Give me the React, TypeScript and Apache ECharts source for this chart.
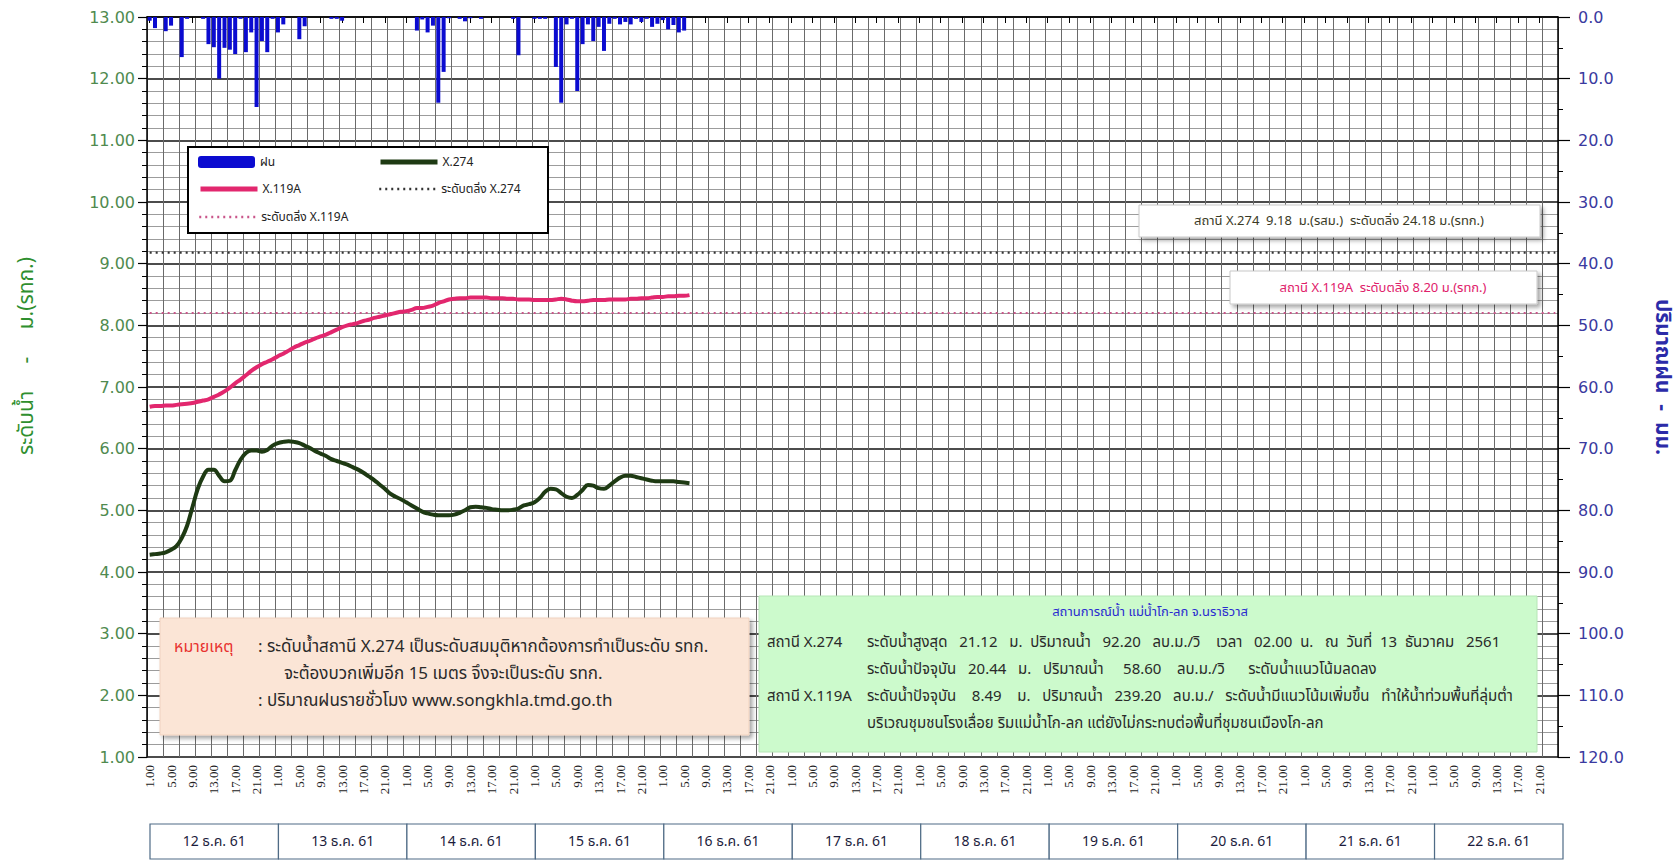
import React, { useEffect, useRef } from 'react';
import * as echarts from 'echarts';

// ---------- data ----------
const DAYS = ['12 ธ.ค. 61', '13 ธ.ค. 61', '14 ธ.ค. 61', '15 ธ.ค. 61', '16 ธ.ค. 61', '17 ธ.ค. 61', '18 ธ.ค. 61', '19 ธ.ค. 61', '20 ธ.ค. 61', '21 ธ.ค. 61', '22 ธ.ค. 61'];
const HOURS = ['1.00', '2.00', '3.00', '4.00', '5.00', '6.00', '7.00', '8.00', '9.00', '10.00', '11.00', '12.00', '13.00', '14.00', '15.00', '16.00', '17.00', '18.00', '19.00', '20.00', '21.00', '22.00', '23.00', '24.00'];
const CATEGORIES = DAYS.flatMap((d) => HOURS.map((h) => `${d}|${h}`));

// hourly rainfall (mm) from 12 ธ.ค. 1.00
const RAIN = [
  0.6, 1.8, 0, 2.3, 1.4, 0, 6.5, 0.3, 0, 0,
  0.3, 4.4, 4.9, 10.0, 5.0, 5.3, 6.0, 0.3, 5.7, 2.5,
  14.6, 3.9, 5.7, 0.3, 2.5, 1.2, 0, 0, 3.6, 1.5,
  0, 0, 0, 0, 0.3, 0.3, 0.6, 0, 0, 0,
  0, 0, 0, 0, 0, 0, 0, 0, 0, 0,
  2.2, 0.4, 2.5, 1.4, 13.9, 8.9, 0.2, 0, 0.3, 0.7,
  0.2, 0, 0.3, 0, 0, 0, 0, 0, 0.3, 6.2,
  0, 0, 0.3, 0.3, 0.3, 0, 8.1, 13.9, 1.2, 0.3,
  12.0, 4.4, 1.2, 3.9, 1.6, 5.5, 1.1, 0.3, 1.2, 0.8,
  1.2, 0.3, 0.8, 0.3, 1.6, 1.1, 0.5, 2.0, 1.3, 2.5,
  2.2, 0,
];

// water level X.274 (m, assumed datum)
const X274 = [
  4.28, 4.29, 4.30, 4.32, 4.36, 4.42, 4.55, 4.75, 5.05, 5.35,
  5.55, 5.66, 5.66, 5.56, 5.47, 5.48, 5.65, 5.82, 5.93, 5.97,
  5.97, 5.95, 5.98, 6.05, 6.09, 6.11, 6.12, 6.11, 6.09, 6.05,
  6.01, 5.96, 5.92, 5.88, 5.83, 5.80, 5.77, 5.74, 5.70, 5.66,
  5.61, 5.55, 5.49, 5.42, 5.35, 5.27, 5.22, 5.18, 5.13, 5.08,
  5.03, 4.98, 4.95, 4.93, 4.92, 4.92, 4.92, 4.93, 4.96, 5.00,
  5.05, 5.06, 5.05, 5.04, 5.02, 5.01, 5.00, 5.00, 5.01, 5.03,
  5.08, 5.10, 5.13, 5.20, 5.30, 5.35, 5.34, 5.28, 5.22, 5.20,
  5.25, 5.33, 5.41, 5.40, 5.36, 5.35, 5.40, 5.47, 5.53, 5.56,
  5.56, 5.54, 5.52, 5.50, 5.48, 5.47, 5.47, 5.47, 5.47, 5.46,
  5.45, 5.44,
];

// water level X.119A (m MSL)
const X119A = [
  6.68, 6.69, 6.69, 6.70, 6.70, 6.71, 6.72, 6.73, 6.74, 6.76,
  6.78, 6.80, 6.84, 6.88, 6.93, 6.99, 7.06, 7.12, 7.19, 7.26,
  7.32, 7.37, 7.41, 7.45, 7.50, 7.54, 7.59, 7.64, 7.68, 7.72,
  7.75, 7.79, 7.82, 7.85, 7.89, 7.93, 7.97, 8.00, 8.02, 8.04,
  8.07, 8.09, 8.12, 8.14, 8.16, 8.18, 8.20, 8.22, 8.23, 8.25,
  8.28, 8.28, 8.30, 8.32, 8.36, 8.39, 8.42, 8.43, 8.44, 8.44,
  8.45, 8.45, 8.45, 8.45, 8.44, 8.44, 8.44, 8.43, 8.43, 8.42,
  8.42, 8.42, 8.41, 8.41, 8.41, 8.41, 8.42, 8.43, 8.42, 8.40,
  8.39, 8.39, 8.40, 8.41, 8.41, 8.41, 8.42, 8.42, 8.42, 8.42,
  8.43, 8.43, 8.44, 8.44, 8.45, 8.46, 8.46, 8.47, 8.47, 8.48,
  8.48, 8.49,
];

const BANK_X274 = 9.18;
const BANK_X119A = 8.2;

const LEFT_TICKS = { min: 1, max: 13, interval: 1 };
const RIGHT_TICKS = { min: 0, max: 120, interval: 10 };

// ---------- layout ----------
const W = 1677;
const H = 861;
const GL = 147;
const GT = 17;
const GW = 1411;
const GH = 740;
const TABLE_LEFT = 150;
const TABLE_RIGHT = 1563;
const TABLE_TOP = 824;
const TABLE_H = 35;

const THAI = "Tahoma, 'Noto Sans Thai', 'Noto Sans', 'DejaVu Sans', sans-serif";
const sp = (n: number) => '\u00A0'.repeat(n);

function buildOption() {
  const legendCommon = {
    itemWidth: 57,
    itemHeight: 12,
    padding: 0,
    selectedMode: false,
    orient: 'horizontal',
    z: 30,
    textStyle: { fontSize: 12, color: '#222', fontFamily: THAI },
  };
  const lineLegend = { ...legendCommon, itemStyle: { opacity: 0 } };

  const cellW = (TABLE_RIGHT - TABLE_LEFT) / DAYS.length;
  const tableEls: any[] = [];
  DAYS.forEach((d, i) => {
    tableEls.push({
      type: 'rect',
      shape: { x: TABLE_LEFT + i * cellW, y: TABLE_TOP, width: cellW, height: TABLE_H },
      style: { fill: '#fff', stroke: '#4f6b86', lineWidth: 1.2 },
      z: 20,
    });
    tableEls.push({
      type: 'text',
      x: TABLE_LEFT + i * cellW + cellW / 2,
      y: TABLE_TOP + TABLE_H / 2,
      style: { text: d, fill: '#1c1c3c', font: `14px ${THAI}`, align: 'center', verticalAlign: 'middle' },
      z: 21,
    });
  });

  const boxShadow = { shadowBlur: 4, shadowColor: 'rgba(0,0,0,0.35)', shadowOffsetX: 3, shadowOffsetY: 3 };
  const txt = (x: number, y: number, text: string, fill: string, size: number, align = 'left') => ({
    type: 'text', x, y, z: 21,
    style: { text, fill, font: `${size}px ${THAI}`, align, verticalAlign: 'middle' },
  });

  const line1 = `ระดับน้ำสูงสุด${sp(3)}21.12${sp(3)}ม.${sp(2)}ปริมาณน้ำ${sp(3)}92.20${sp(3)}ลบ.ม./วิ${sp(4)}เวลา${sp(3)}02.00${sp(2)}น.${sp(3)}ณ${sp(2)}วันที่${sp(2)}13${sp(2)}ธันวาคม${sp(3)}2561`;
  const line2 = `ระดับน้ำปัจจุบัน${sp(3)}20.44${sp(3)}ม.${sp(3)}ปริมาณน้ำ${sp(5)}58.60${sp(4)}ลบ.ม./วิ${sp(6)}ระดับน้ำแนวโน้มลดลง`;
  const line3 = `ระดับน้ำปัจจุบัน${sp(4)}8.49${sp(4)}ม.${sp(3)}ปริมาณน้ำ${sp(3)}239.20${sp(3)}ลบ.ม./${sp(3)}ระดับน้ำมีแนวโน้มเพิ่มขึ้น${sp(3)}ทำให้น้ำท่วมพื้นที่ลุ่มต่ำ`;
  const line4 = 'บริเวณชุมชนโรงเลื่อย ริมแม่น้ำโก-ลก แต่ยังไม่กระทบต่อพื้นที่ชุมชนเมืองโก-ลก';

  const graphic: any[] = [
    // axis titles
    {
      type: 'text', x: 26, y: 356, rotation: Math.PI / 2, z: 20,
      style: { text: `ระดับน้ำ${sp(5)}-${sp(5)}ม.(รทก.)`, fill: '#2f8f2f', font: `21px ${THAI}`, align: 'center', verticalAlign: 'middle' },
    },
    {
      type: 'text', x: 1662, y: 377, rotation: -Math.PI / 2, z: 20,
      style: { text: `ปริมาณฝน${sp(2)}-${sp(2)}มม.`, fill: '#2b2ba8', font: `bold 21px ${THAI}`, align: 'center', verticalAlign: 'middle' },
    },
    // legend frame
    {
      type: 'rect', shape: { x: 188, y: 147, width: 360, height: 86 },
      style: { fill: '#fff', stroke: '#000', lineWidth: 2 }, z: 20,
    },
    // bank-level notes
    {
      type: 'rect', shape: { x: 1139, y: 205, width: 401, height: 32 },
      style: { fill: '#fff', stroke: '#c8c8c8', lineWidth: 1, ...boxShadow }, z: 20,
    },
    txt(1339, 221, `สถานี X.274${sp(2)}9.18${sp(2)}ม.(รสม.)${sp(2)}ระดับตลิ่ง 24.18 ม.(รทก.)`, '#3a3a25', 13, 'center'),
    {
      type: 'rect', shape: { x: 1230, y: 271, width: 307, height: 33 },
      style: { fill: '#fff', stroke: '#c8c8c8', lineWidth: 1, ...boxShadow }, z: 20,
    },
    txt(1383, 288, `สถานี X.119A${sp(2)}ระดับตลิ่ง 8.20 ม.(รทก.)`, '#e0206a', 13, 'center'),
    // remark box
    {
      type: 'rect', shape: { x: 160, y: 618, width: 589, height: 117 },
      style: { fill: '#fbe5d6', stroke: '#f0d2bf', lineWidth: 1, ...boxShadow }, z: 20,
    },
    txt(174, 647, 'หมายเหตุ', '#e8322f', 16),
    txt(258, 647, ': ระดับน้ำสถานี X.274 เป็นระดับสมมุติหากต้องการทำเป็นระดับ รทก.', '#2a2a2a', 17),
    txt(284, 674, 'จะต้องบวกเพิ่มอีก 15 เมตร จึงจะเป็นระดับ รทก.', '#2a2a2a', 17),
    txt(258, 701, ': ปริมาณฝนรายชั่วโมง www.songkhla.tmd.go.th', '#2a2a2a', 17),
    // situation box
    {
      type: 'rect', shape: { x: 759, y: 596, width: 778, height: 156 },
      style: { fill: '#ccfacc', stroke: '#b6e6b6', lineWidth: 1 }, z: 20,
    },
    txt(1150, 612, 'สถานการณ์น้ำ แม่น้ำโก-ลก จ.นราธิวาส', '#2a2ad0', 13, 'center'),
    txt(767, 642, 'สถานี X.274', '#2a2a2a', 15),
    txt(867, 642, line1, '#2a2a2a', 15),
    txt(867, 669, line2, '#2a2a2a', 15),
    txt(767, 696, 'สถานี X.119A', '#2a2a2a', 15),
    txt(867, 696, line3, '#2a2a2a', 15),
    txt(867, 723, line4, '#2a2a2a', 15),
    ...tableEls,
  ];

  return {
    animation: false,
    backgroundColor: '#ffffff',
    textStyle: { fontFamily: THAI },
    grid: { left: GL, top: GT, width: GW, height: GH, containLabel: false },
    legend: [
      { ...legendCommon, data: ['ฝน'], left: 198, top: 156 },
      { ...lineLegend, data: ['X.274'], left: 378, top: 156, lineStyle: { width: 5 } },
      { ...lineLegend, data: ['X.119A'], left: 198, top: 183, lineStyle: { width: 5 } },
      { ...lineLegend, data: ['ระดับตลิ่ง X.274'], left: 378, top: 183, lineStyle: { width: 2.5 } },
      { ...lineLegend, data: ['ระดับตลิ่ง X.119A'], left: 198, top: 211, lineStyle: { width: 2.5 } },
    ],
    xAxis: {
      type: 'category',
      data: CATEGORIES,
      boundaryGap: true,
      axisLine: { show: true, lineStyle: { color: '#000', width: 1.5 } },
      axisTick: { show: true, interval: 3, alignWithLabel: true, length: 6, lineStyle: { color: '#000' } },
      axisLabel: {
        interval: 3,
        rotate: 90,
        margin: 8,
        fontSize: 13,
        fontFamily: "'Liberation Serif', 'DejaVu Serif', serif",
        color: '#222',
        formatter: (v: string) => v.split('|')[1],
      },
      splitLine: { show: true, interval: 2, lineStyle: { color: '#6a6a6a', width: 1 } },
    },
    yAxis: [
      {
        type: 'value',
        position: 'left',
        ...LEFT_TICKS,
        axisLine: { show: true, lineStyle: { color: '#000', width: 1.5 } },
        axisTick: { show: true, length: 9, lineStyle: { color: '#000', width: 1.2 } },
        minorTick: { show: true, splitNumber: 5, length: 5, lineStyle: { color: '#000' } },
        axisLabel: {
          margin: 12,
          fontSize: 16,
          fontFamily: "'DejaVu Sans', sans-serif",
          color: '#4f8a4f',
          formatter: (v: number) => v.toFixed(2),
        },
        splitLine: { show: true, lineStyle: { color: '#111', width: 1.5 } },
        minorSplitLine: { show: true, lineStyle: { color: '#9c9c9c', width: 1 } },
      },
      {
        type: 'value',
        position: 'right',
        inverse: true,
        ...RIGHT_TICKS,
        axisLine: { show: true, lineStyle: { color: '#000', width: 1.5 } },
        axisTick: { show: true, length: 12, lineStyle: { color: '#000', width: 1.2 } },
        minorTick: { show: true, splitNumber: 2, length: 5, lineStyle: { color: '#000' } },
        axisLabel: {
          margin: 20,
          fontSize: 16,
          fontFamily: "'DejaVu Sans', sans-serif",
          color: '#3a3aa0',
          formatter: (v: number) => v.toFixed(1),
        },
        splitLine: { show: false },
      },
    ],
    series: [
      {
        name: 'ฝน',
        type: 'bar',
        xAxisIndex: 0,
        yAxisIndex: 1,
        data: RAIN,
        barWidth: 4,
        itemStyle: { color: '#0b0bd0' },
        z: 3,
      },
      {
        name: 'X.274',
        type: 'line',
        yAxisIndex: 0,
        data: X274,
        smooth: 0.4,
        symbol: 'none',
        lineStyle: { color: '#1e3a13', width: 4 },
        itemStyle: { color: '#1e3a13' },
        z: 6,
      },
      {
        name: 'X.119A',
        type: 'line',
        yAxisIndex: 0,
        data: X119A,
        smooth: 0.4,
        symbol: 'none',
        lineStyle: { color: '#e2276e', width: 4 },
        itemStyle: { color: '#e2276e' },
        z: 6,
      },
      {
        name: 'ระดับตลิ่ง X.274',
        type: 'line',
        yAxisIndex: 0,
        data: CATEGORIES.map(() => BANK_X274),
        symbol: 'none',
        lineStyle: { color: '#333', width: 2.2, type: [2, 4] },
        itemStyle: { color: '#333' },
        z: 4,
      },
      {
        name: 'ระดับตลิ่ง X.119A',
        type: 'line',
        yAxisIndex: 0,
        data: CATEGORIES.map(() => BANK_X119A),
        symbol: 'none',
        lineStyle: { color: '#c9568a', width: 2.2, type: [2, 4] },
        itemStyle: { color: '#c9568a' },
        z: 4,
      },
    ],
    graphic,
  };
}

export default function App() {
  const ref = useRef<HTMLDivElement>(null);
  useEffect(() => {
    if (!ref.current) return;
    const chart = echarts.init(ref.current, null, { renderer: 'svg' });
    chart.setOption(buildOption() as any);
    return () => chart.dispose();
  }, []);
  return (
    <div
      ref={ref}
      style={{ position: 'absolute', left: 0, top: 0, width: W, height: H, background: '#fff' }}
    />
  );
}
